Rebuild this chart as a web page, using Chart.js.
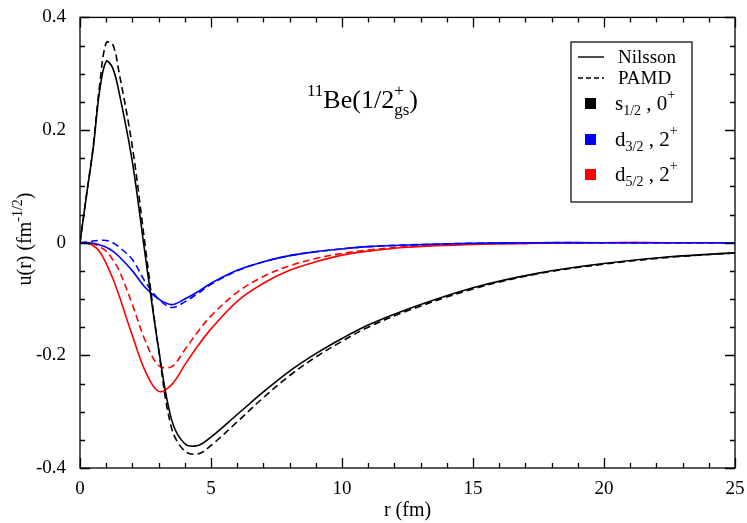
<!DOCTYPE html>
<html>
<head>
<meta charset="utf-8">
<script src="https://cdn.jsdelivr.net/npm/chart.js@4/dist/chart.umd.min.js"></script>
<style>
  html, body { margin: 0; padding: 0; background: #fff; }
  #wrap { width: 747px; height: 523px; }
</style>
</head>
<body>
<div id="wrap"><canvas id="chart"></canvas></div>
<script>
// ================= data =================
const r = [0, 0.25, 0.5, 0.75, 1, 1.25, 1.5, 2, 2.5, 3, 3.5, 4, 4.5, 5, 6, 7, 8, 9, 10, 11, 12.5, 15, 17.5, 20, 22.5, 25];

const sNilsson = [0, 0.085, 0.166, 0.27, 0.322, 0.31, 0.265, 0.143, -0.026, -0.188, -0.315, -0.357, -0.36, -0.345, -0.305, -0.265, -0.228, -0.197, -0.170, -0.146, -0.118, -0.080, -0.054, -0.037, -0.025, -0.018];
const sPamd    = [0, 0.085, 0.17, 0.28, 0.355, 0.352, 0.30, 0.17, -0.01, -0.19, -0.33, -0.37, -0.375, -0.36, -0.318, -0.275, -0.236, -0.203, -0.175, -0.15, -0.121, -0.082, -0.055, -0.038, -0.026, -0.018];
const d3Nilsson = [0, 0, -0.001, -0.004, -0.008, -0.015, -0.025, -0.05, -0.08, -0.10, -0.110, -0.10, -0.087, -0.072, -0.049, -0.034, -0.023, -0.016, -0.011, -0.007, -0.004, -0.001, 0, 0, 0, 0];
const d3Pamd    = [0, 0.001, 0.003, 0.004, 0.004, 0.0, -0.008, -0.03, -0.07, -0.10, -0.115, -0.105, -0.09, -0.074, -0.05, -0.034, -0.023, -0.016, -0.011, -0.007, -0.004, -0.001, 0, 0, 0, 0];
const d5Nilsson = [0, -0.001, -0.005, -0.016, -0.037, -0.063, -0.095, -0.165, -0.229, -0.264, -0.252, -0.217, -0.183, -0.153, -0.104, -0.072, -0.049, -0.034, -0.022, -0.015, -0.008, -0.003, -0.001, 0, 0, 0];
const d5Pamd    = [0, 0, -0.002, -0.007, -0.015, -0.03, -0.05, -0.11, -0.175, -0.218, -0.22, -0.19, -0.158, -0.13, -0.088, -0.06, -0.041, -0.028, -0.019, -0.013, -0.007, -0.002, -0.001, 0, 0, 0];

const xTicks = [0, 5, 10, 15, 20, 25];
const yTicks = [-0.4, -0.2, 0, 0.2, 0.4];

const FONT = "'Liberation Serif', 'DejaVu Serif', serif";

function series(vals, color, dashed) {
  return {
    data: r.map((x, i) => ({ x, y: vals[i] })),
    borderColor: color,
    borderWidth: 1.6,
    borderDash: dashed ? [7, 4] : [],
    pointRadius: 0,
    fill: false,
    tension: 0.35
  };
}

// ================= plugin: inward ticks, titles, legend =================
const decor = {
  id: "decor",
  afterDraw(chart) {
    const ctx = chart.ctx;
    const a = chart.chartArea;
    const xs = chart.scales.x, ys = chart.scales.y;
    ctx.save();
    ctx.setLineDash([]);
    ctx.strokeStyle = "#000";
    ctx.lineWidth = 1.3;
    ctx.strokeRect(a.left, a.top, a.right - a.left, a.bottom - a.top);

    ctx.beginPath();
    for (let v = 0; v <= 25; v++) {
      const px = Math.round(xs.getPixelForValue(v)) + 0.5;
      const len = v % 5 === 0 ? 10 : 5;
      ctx.moveTo(px, a.bottom); ctx.lineTo(px, a.bottom - len);
      ctx.moveTo(px, a.top); ctx.lineTo(px, a.top + len);
    }
    for (let k = -8; k <= 8; k++) {
      const py = Math.round(ys.getPixelForValue(k * 0.05)) + 0.5;
      const len = Math.abs(k) % 4 === 0 ? 10 : 5;
      ctx.moveTo(a.left, py); ctx.lineTo(a.left + len, py);
      ctx.moveTo(a.right, py); ctx.lineTo(a.right - len, py);
    }
    ctx.stroke();

    // x title
    ctx.fillStyle = "#000";
    ctx.font = "20px " + FONT;
    ctx.textAlign = "center";
    ctx.textBaseline = "alphabetic";
    ctx.fillText("r (fm)", (a.left + a.right) / 2, 516);

    // y title
    ctx.save();
    ctx.translate(24, 239);
    ctx.rotate(-Math.PI / 2);
    ctx.textAlign = "left";
    const main = "u(r) (fm";
    ctx.font = "20px " + FONT;
    const w1 = ctx.measureText(main).width;
    const w3 = ctx.measureText(")").width;
    const sup = "-1/2";
    ctx.font = "14px " + FONT;
    const w2 = ctx.measureText(sup).width;
    const x0 = -(w1 + w2 + w3) / 2;
    ctx.font = "20px " + FONT;
    ctx.fillText(main, x0, 7);
    ctx.font = "14px " + FONT;
    ctx.fillText(sup, x0 + w1, -2);
    ctx.font = "20px " + FONT;
    ctx.fillText(")", x0 + w1 + w2, 7);
    ctx.restore();

    // annotation 11Be(1/2+gs)
    ctx.textAlign = "left";
    let x = 307;
    const base = 108;
    ctx.font = "17px " + FONT; ctx.fillText("11", x, base - 12); x += ctx.measureText("11").width;
    ctx.font = "26px " + FONT; ctx.fillText("Be(1/2", x, base); x += ctx.measureText("Be(1/2").width;
    ctx.font = "17px " + FONT; ctx.fillText("+", x, base - 12);
    ctx.fillText("gs", x, base + 7); x += ctx.measureText("gs").width;
    ctx.font = "26px " + FONT; ctx.fillText(")", x, base);

    // legend
    ctx.lineWidth = 1.2;
    ctx.strokeRect(571, 42, 121, 160);
    ctx.lineWidth = 1.4;
    ctx.beginPath(); ctx.moveTo(578, 57); ctx.lineTo(604, 57); ctx.stroke();
    ctx.setLineDash([5, 3]);
    ctx.beginPath(); ctx.moveTo(578, 78); ctx.lineTo(604, 78); ctx.stroke();
    ctx.setLineDash([]);
    ctx.font = "19px " + FONT;
    ctx.fillText("Nilsson", 618, 63);
    ctx.fillText("PAMD", 618, 84);
    const items = [["#000", "s", "1/2", "0", 110], ["#0000ff", "d", "3/2", "2", 146], ["#ff0000", "d", "5/2", "2", 181]];
    items.forEach(([c, l, sub, j, y]) => {
      ctx.fillStyle = c;
      ctx.fillRect(585, y - 12, 11, 11);
      ctx.fillStyle = "#000";
      let xx = 615;
      ctx.font = "21px " + FONT; ctx.fillText(l, xx, y); xx += ctx.measureText(l).width;
      ctx.font = "14px " + FONT; ctx.fillText(sub, xx, y + 5); xx += ctx.measureText(sub).width;
      ctx.font = "21px " + FONT; ctx.fillText(" , " + j, xx, y); xx += ctx.measureText(" , " + j).width;
      ctx.font = "14px " + FONT; ctx.fillText("+", xx, y - 11);
    });
    ctx.restore();
  }
};

new Chart(document.getElementById("chart"), {
  type: "line",
  data: {
    datasets: [
      series(sNilsson, "#000", false),
      series(sPamd, "#000", true),
      series(d3Nilsson, "#0000ff", false),
      series(d3Pamd, "#0000ff", true),
      series(d5Nilsson, "#ff0000", false),
      series(d5Pamd, "#ff0000", true)
    ]
  },
  options: {
    responsive: true,
    maintainAspectRatio: false,
    animation: false,
    events: [],
    layout: { padding: { top: 9, right: 12, left: 0, bottom: 0 } },
    plugins: { legend: { display: false }, tooltip: { enabled: false } },
    scales: {
      x: {
        type: "linear", min: 0, max: 25,
        afterBuildTicks: s => { s.ticks = xTicks.map(v => ({ value: v })); },
        afterFit: s => { s.height = 55; },
        grid: { display: false },
        border: { display: false },
        ticks: { color: "#000", font: { family: FONT, size: 19 }, padding: 2 }
      },
      y: {
        type: "linear", min: -0.4, max: 0.4,
        afterBuildTicks: s => { s.ticks = yTicks.map(v => ({ value: v })); },
        afterFit: s => { s.width = 80; },
        grid: { display: false },
        border: { display: false },
        ticks: {
          color: "#000", font: { family: FONT, size: 19 }, padding: 6,
          callback: v => (Math.abs(v) < 1e-9 ? "0" : String(Math.round(v * 10) / 10))
        }
      }
    }
  },
  plugins: [decor]
});
</script>
</body>
</html>
